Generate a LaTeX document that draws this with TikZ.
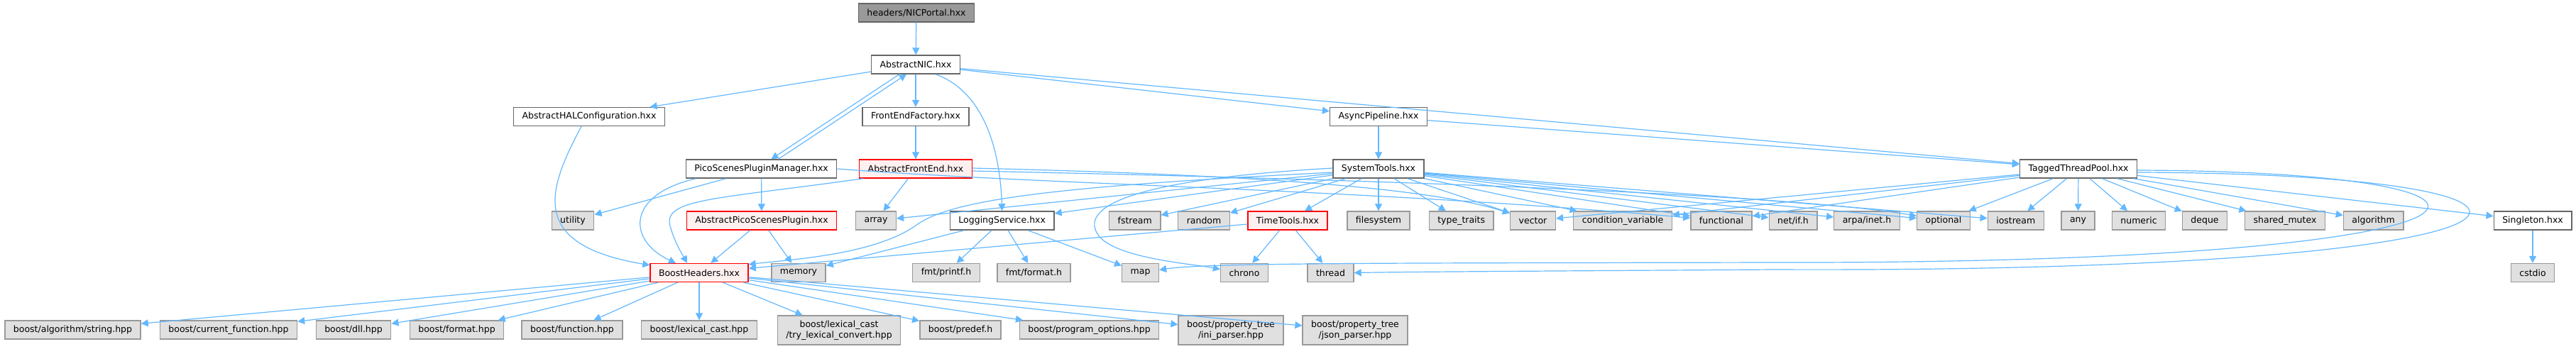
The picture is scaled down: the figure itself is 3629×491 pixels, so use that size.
\documentclass[tikz,border=0pt]{standalone}
\usepackage{fontspec}
\setmainfont{DejaVu Sans}
\usetikzlibrary{arrows.meta}
\definecolor{edgeblue}{HTML}{63B8FF}
\definecolor{grayfill}{HTML}{E0E0E0}
\definecolor{grayline}{HTML}{999999}
\definecolor{darkline}{HTML}{666666}
\definecolor{redfill}{HTML}{FFF0F0}
\tikzset{
  file/.style={draw,rectangle,line width=1.4pt,minimum height=26pt,inner xsep=12pt,inner ysep=0pt,font=\fontsize{12.5}{14.5}\selectfont},
  sysfile/.style={file,fill=grayfill,draw=grayline},
  localfile/.style={file,fill=white,draw=darkline},
  redfile/.style={file,fill=redfill,draw=red},
  rootfile/.style={file,fill=grayline,draw=darkline},
  twoline/.style={align=center,minimum height=41pt},
  dep/.style={draw=edgeblue,line width=1.2pt,-{Triangle[length=10pt,width=10pt]}}
}

\begin{document}
\begin{tikzpicture}[x=1pt,y=-1pt]
\path[use as bounding box] (0,0) rectangle (3629,491);
% rows 1-4
\node[rootfile] (portal) at (1291,18) {headers/NICPortal.hxx};
\node[localfile] (anic) at (1290,91) {AbstractNIC.hxx};
\node[localfile] (halcfg) at (830,164.5) {AbstractHALConfiguration.hxx};
\node[localfile] (fefactory) at (1290,164.5) {FrontEndFactory.hxx};
\node[localfile] (asyncpipe) at (1942,164.5) {AsyncPipeline.hxx};
\node[localfile] (pspm) at (1072.5,238) {PicoScenesPluginManager.hxx};
\node[redfile] (afrontend) at (1290,238) {AbstractFrontEnd.hxx};
\node[localfile] (systools) at (1942,238) {SystemTools.hxx};
\node[localfile] (ttpool) at (2928,238) {TaggedThreadPool.hxx};
% row 5
\node[sysfile] (utility) at (807,311) {utility};
\node[redfile] (apsplugin) at (1073,311) {AbstractPicoScenesPlugin.hxx};
\node[sysfile] (array) at (1234,311) {array};
\node[localfile] (logsvc) at (1411.7,311) {LoggingService.hxx};
\node[sysfile] (fstream) at (1598.7,311) {fstream};
\node[sysfile] (random) at (1696,311) {random};
\node[redfile] (timetools) at (1814,311) {TimeTools.hxx};
\node[sysfile] (filesystem) at (1942,311) {filesystem};
\node[sysfile] (typetraits) at (2058.7,311) {type\_traits};
\node[sysfile] (vector) at (2159.5,311) {vector};
\node[sysfile] (condvar) at (2286,311) {condition\_variable};
\node[sysfile] (functional) at (2425,311) {functional};
\node[sysfile] (netif) at (2526,311) {net/if.h};
\node[sysfile] (arpainet) at (2630,311) {arpa/inet.h};
\node[sysfile] (optional) at (2738,311) {optional};
\node[sysfile] (iostream) at (2839.7,311) {iostream};
\node[sysfile] (any) at (2927.5,311) {any};
\node[sysfile] (numeric) at (3013,311) {numeric};
\node[sysfile] (deque) at (3106,311) {deque};
\node[sysfile] (sharedmutex) at (3219,311) {shared\_mutex};
\node[sysfile] (algorithm) at (3343.6,311) {algorithm};
\node[localfile] (singleton) at (3568,311) {Singleton.hxx};
% row 6
\node[redfile] (boosth) at (985,384.5) {BoostHeaders.hxx};
\node[sysfile] (memory) at (1125,384.5) {memory};
\node[sysfile] (fmtprintf) at (1333,384.5) {fmt/printf.h};
\node[sysfile] (fmtformat) at (1456.5,384.5) {fmt/format.h};
\node[sysfile] (map) at (1606.6,384.5) {map};
\node[sysfile] (chrono) at (1753,384.5) {chrono};
\node[sysfile] (thread) at (1874.5,384.5) {thread};
\node[sysfile] (cstdio) at (3568,384.5) {cstdio};
% row 7
\node[sysfile] (balgo) at (102.5,465) {boost/algorithm/string.hpp};
\node[sysfile] (bcurfn) at (322,465) {boost/current\_function.hpp};
\node[sysfile] (bdll) at (498,465) {boost/dll.hpp};
\node[sysfile] (bformat) at (643.5,465) {boost/format.hpp};
\node[sysfile] (bfunction) at (806,465) {boost/function.hpp};
\node[sysfile] (blexcast) at (985,465) {boost/lexical\_cast.hpp};
\node[sysfile,twoline] (btrylex) at (1182,465.5) {boost/lexical\_cast\\/try\_lexical\_convert.hpp};
\node[sysfile] (bpredef) at (1353,465) {boost/predef.h};
\node[sysfile] (bprogopt) at (1534.5,465) {boost/program\_options.hpp};
\node[sysfile,twoline] (biniparser) at (1734,465.5) {boost/property\_tree\\/ini\_parser.hpp};
\node[sysfile,twoline] (bjsonparser) at (1909,465.5) {boost/property\_tree\\/json\_parser.hpp};

% includes of the upper headers
\draw[dep] (portal) -- (anic);
\draw[dep] (anic) -- (halcfg);
\draw[dep] (anic) -- (fefactory);
\draw[dep] (anic) -- (asyncpipe);
\draw[dep] (anic) -- (ttpool);
\draw[dep] ([xshift=-23pt]anic.south) -- ([xshift=14pt]pspm.north);
\draw[dep] ([xshift=24pt]pspm.north) -- ([xshift=-13pt]anic.south);
\draw[dep] ([xshift=28pt]anic.south) .. controls (1375,125) and (1408,190) .. (logsvc.north);
\draw[dep] ([xshift=-11pt]halcfg.south) .. controls (770,270) and (745,345) .. ([yshift=-3pt]boosth.north west);
\draw[dep] (fefactory) -- (afrontend);
\draw[dep] (asyncpipe) -- (systools);
\draw[dep] (asyncpipe) -- (ttpool);
\draw[dep] (pspm) -- (utility);
\draw[dep] (pspm) -- (apsplugin);
\draw[dep] ([xshift=-92pt]pspm.south) .. controls (880,275) and (885,340) .. ([xshift=-33pt]boosth.north);
\draw[dep] (pspm.east) .. controls (1500,262) and (1900,265) .. (functional);
\draw[dep] (afrontend) -- (array);
\draw[dep] ([xshift=6pt]afrontend.south west) .. controls (1000,282) and (930,280) .. (945,322) .. controls (952,345) and (962,360) .. ([xshift=-17pt]boosth.north);
\draw[dep] ([yshift=1pt]afrontend.east) .. controls (1700,245) and (2000,260) .. (vector);
\draw[dep] ([yshift=-3pt]afrontend.east) .. controls (1800,250) and (2500,270) .. (optional);
\draw[dep] (apsplugin) -- (boosth);
\draw[dep] (apsplugin) -- (memory);
% SystemTools
\draw[dep] (systools) -- (array);
\draw[dep] (systools) -- (logsvc);
\draw[dep] (systools) -- (fstream);
\draw[dep] (systools) -- (random);
\draw[dep] (systools) -- (timetools);
\draw[dep] (systools) -- (filesystem);
\draw[dep] (systools) -- (typetraits);
\draw[dep] (systools) -- (vector);
\draw[dep] (systools) -- (condvar);
\draw[dep] (systools) -- (functional);
\draw[dep] (systools) -- (netif);
\draw[dep] (systools) -- (arpainet);
\draw[dep] (systools) -- (optional);
\draw[dep] (systools) -- (iostream);
\draw[dep] ([yshift=-5pt]systools.west) .. controls (1500,262) and (1340,280) .. (1290,318) .. controls (1230,360) and (1110,366) .. ([yshift=-2pt]boosth.north east);
\draw[dep] ([yshift=1pt]systools.west) .. controls (1560,255) and (1520,300) .. (1550,335) .. controls (1580,365) and (1680,372) .. ([yshift=5pt]chrono.west);
% LoggingService, TimeTools
\draw[dep] (logsvc) -- (memory);
\draw[dep] (logsvc) -- (fmtprintf);
\draw[dep] (logsvc) -- (fmtformat);
\draw[dep] (logsvc) -- (map);
\draw[dep] (timetools) -- (boosth);
\draw[dep] (timetools) -- (chrono);
\draw[dep] (timetools) -- (thread);
% TaggedThreadPool
\foreach \t in {vector,condvar,functional,optional,iostream,any,numeric,deque,sharedmutex,algorithm,singleton}
  \draw[dep] (ttpool) -- (\t);
\draw[dep] ([yshift=-2pt]ttpool.east) .. controls (3640,242) and (3600,372) .. (2500,370) .. controls (2000,371) and (1700,370) .. ([yshift=4pt]map.east);
\draw[dep] ([yshift=-5pt]ttpool.east) .. controls (3720,245) and (3680,385) .. (2500,380) .. controls (2200,382) and (2000,383) .. (thread.east);
\draw[dep] (singleton) -- (cstdio);
% boost headers
\foreach \t in {balgo,bcurfn,bdll,bformat,bfunction,blexcast,btrylex,bpredef,bprogopt,biniparser,bjsonparser}
  \draw[dep] (boosth) -- (\t);
\end{tikzpicture}
\end{document}
